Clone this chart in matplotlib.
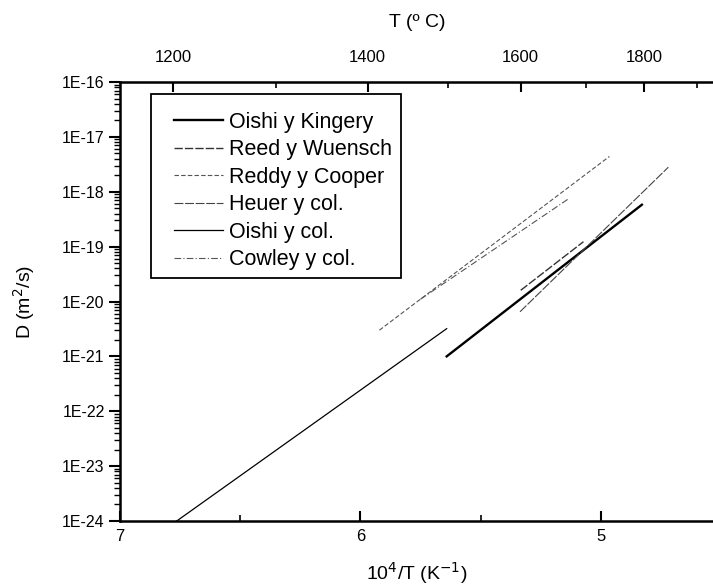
import numpy as np
import matplotlib
matplotlib.use("Agg")
import matplotlib.pyplot as plt
from matplotlib.patches import Rectangle
from matplotlib.ticker import FixedLocator, FuncFormatter, LogLocator, NullFormatter

plt.rcParams['font.family'] = ['Liberation Sans', 'DejaVu Sans']

# each data set: end points of an Arrhenius line (10^4/T, D in m2/s)
labels = ["Oishi y Kingery", "Reed y Wuensch", "Reddy y Cooper",
          "Heuer y col.", "Oishi y col.", "Cowley y col."]
x_kingery = [5.641, 4.829]
d_kingery = [1.0e-21, 5.8e-19]
x_reed = [5.333, 5.072]
d_reed = [1.6e-20, 1.23e-19]
x_reddy = [5.921, 4.964]
d_reddy = [3.0e-21, 4.4e-18]
x_heuer = [5.336, 4.719]
d_heuer = [6.5e-21, 2.8e-18]
x_oishi = [6.764, 5.641]
d_oishi = [1.0e-24, 3.2e-21]
x_cowley = [5.75, 5.131]
d_cowley = [1.1e-20, 7.6e-19]

W, H = 713, 587
fig = plt.figure(figsize=(W / 100, H / 100), dpi=100)
ax = fig.add_axes([120 / W, (H - 521) / H, 594 / W, 439 / H])

ax.plot(x_kingery, d_kingery, color='black', lw=1.7, label=labels[0])
ax.plot(x_reed, d_reed, color='#333333', lw=1.0, ls=(0, (6, 1.5)), label=labels[1])
ax.plot(x_reddy, d_reddy, color='#555555', lw=0.8, ls=(0, (4, 2)), label=labels[2])
ax.plot(x_heuer, d_heuer, color='#444444', lw=0.8, ls=(0, (8, 1.5)), label=labels[3])
ax.plot(x_oishi, d_oishi, color='black', lw=0.9, label=labels[4])
ax.plot(x_cowley, d_cowley, color='#555555', lw=0.8, ls=(0, (6, 2, 1, 2)), label=labels[5])

ax.set_yscale('log')
ax.set_ylim(1e-24, 1e-16)
ax.set_xlim(7, 4.529)

ax.xaxis.set_major_locator(FixedLocator([7, 6, 5]))
ax.xaxis.set_minor_locator(FixedLocator([6.5, 5.5, 4.5]))
ax.xaxis.set_major_formatter(FuncFormatter(lambda v, p: f"{v:g}"))
ax.yaxis.set_major_locator(LogLocator(base=10, numticks=20))
ax.yaxis.set_minor_locator(LogLocator(base=10, subs=np.arange(2, 10), numticks=20))
ax.yaxis.set_minor_formatter(NullFormatter())
ax.yaxis.set_major_formatter(FuncFormatter(lambda v, p: f"1E{int(round(np.log10(v)))}"))

ax.tick_params(axis='x', which='major', direction='in', length=7, width=1.5, labelsize=12, pad=6)
ax.tick_params(axis='x', which='minor', direction='in', length=4, width=1.2)
ax.tick_params(axis='y', which='major', direction='out', length=8, width=1.5, labelsize=11.5,
               right=True, pad=3)
ax.tick_params(axis='y', which='minor', direction='out', length=4, width=1.0)
for s in ax.spines.values():
    s.set_linewidth(1.8)

ax.set_xlabel(r"10$^{4}$/T (K$^{-1}$)", fontsize=14, labelpad=11)
ax.set_ylabel(r"D (m$^{2}$/s)", fontsize=14, labelpad=18)

# top axis in degrees Celsius
top = ax.secondary_xaxis('top', functions=(lambda x: 1e4 / x - 275, lambda t: 1e4 / (t + 275)))
top.xaxis.set_major_locator(FixedLocator([1200, 1400, 1600, 1800]))
top.xaxis.set_minor_locator(FixedLocator([1300, 1500, 1700, 1900]))
top.tick_params(which='major', direction='in', length=7, width=1.5, labelsize=12, pad=12)
top.tick_params(which='minor', direction='in', length=4, width=1.2)
top.set_xlabel("T (º C)", fontsize=14, labelpad=17)

# legend frame drawn on its own so the box and the entries can be placed separately
box = Rectangle((151 / W, (H - 278) / H), 250 / W, 184 / H, transform=fig.transFigure,
                facecolor='white', edgecolor='black', lw=1.3, zorder=5)
fig.patches.append(box)
handles, names = ax.get_legend_handles_labels()
leg = fig.legend(handles, names, loc='upper left', bbox_to_anchor=(174 / W, (H - 112) / H),
                 bbox_transform=fig.transFigure, fontsize=15.5, frameon=False,
                 handlelength=2.28, handletextpad=0.28, labelspacing=0.3,
                 borderpad=0, borderaxespad=0)
leg.set_zorder(6)

fig.savefig("out.png", dpi=100)
